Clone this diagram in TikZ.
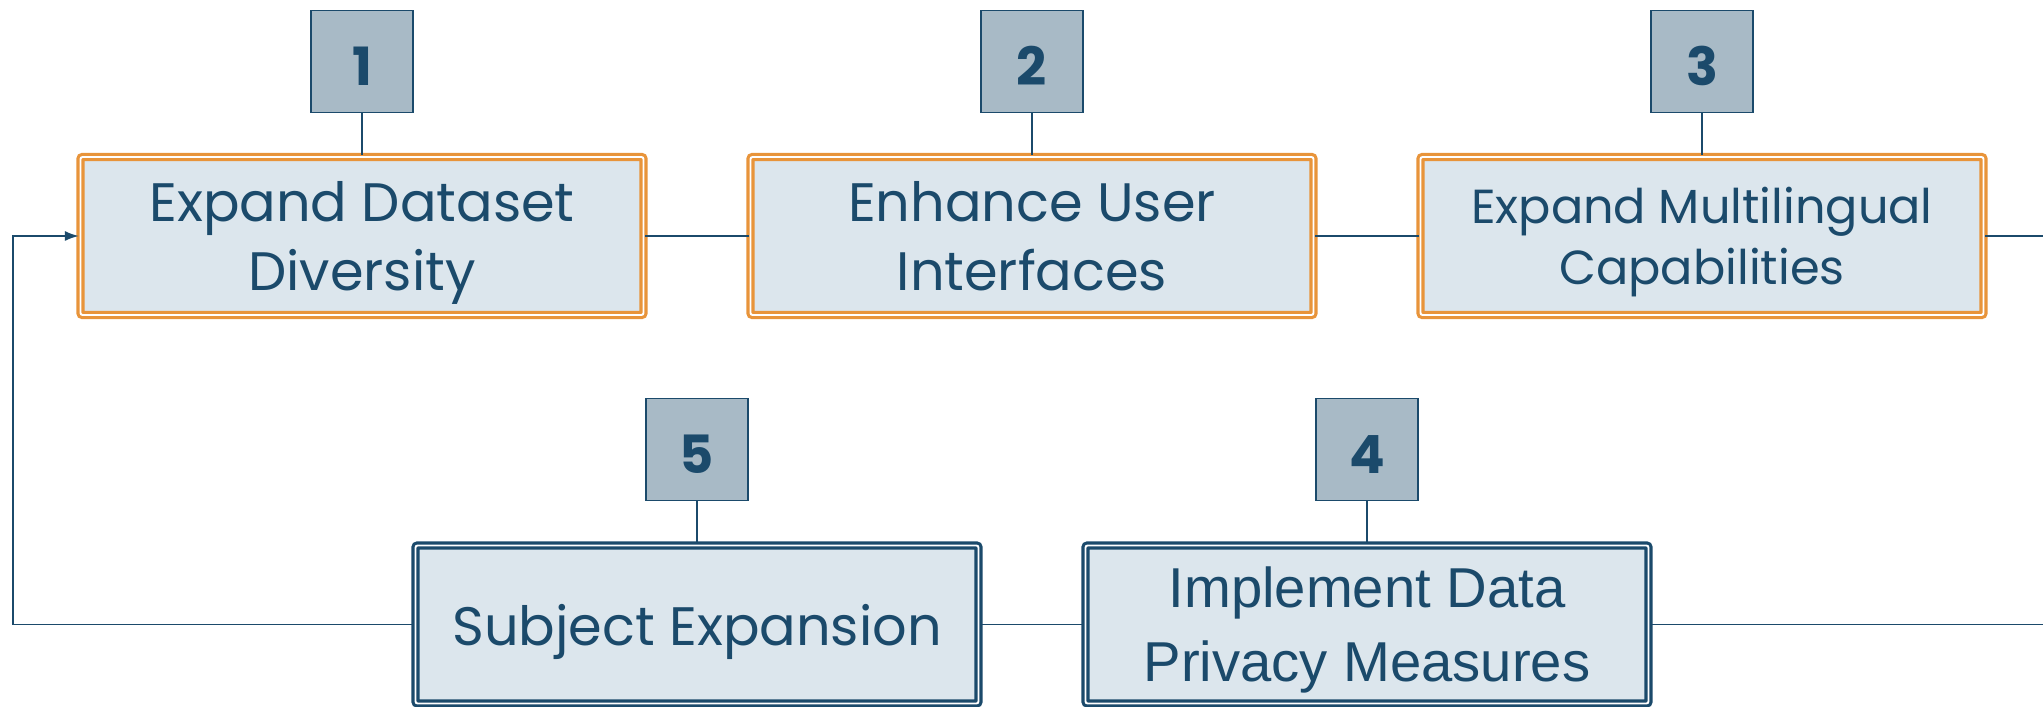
\documentclass[tikz,border=0pt]{standalone}
\usepackage{fontspec}
\setmainfont{Poppins}[Ligatures=NoCommon]
\newfontfamily\arialfont{Liberation Sans}
\usepackage{xcolor}
\usepackage{tikz}
\usetikzlibrary{arrows.meta}

\definecolor{ink}{HTML}{1B4A6B}
\definecolor{boxfill}{HTML}{DCE6ED}
\definecolor{numfill}{HTML}{A8BAC6}
\definecolor{rim}{HTML}{E8943A}

\begin{document}
\begin{tikzpicture}[
		numbox/.style={draw=ink, line width=0.5pt, fill=numfill, minimum size=1.02cm, inner sep=0pt, text=ink, text height=13.6pt, text depth=0pt, font=\fontsize{15}{18}\selectfont\bfseries},
		goal/.style={fill=boxfill, minimum width=5.63cm, minimum height=1.58cm, inner sep=0pt, align=center, text=ink, text depth=0pt, font=\fontsize{15.4}{19.4}\selectfont, line width=0.9pt, double distance=0.55pt, rounded corners=0.6pt},
		goaltop/.style={goal, draw=rim, double=white},
		goalbot/.style={goal, draw=ink, double=white},
		link/.style={ink, line width=0.5pt}
	]
		\useasboundingbox (0,0) rectangle (20.43,7.07);
		
		% top row
		\node[goaltop] (g1) at (3.62,4.71) {Expand Dataset\\Diversity};
		\node[goaltop] (g2) at (10.32,4.71) {Enhance User\\Interfaces};
		\node[goaltop, font=\fontsize{13.6}{17.2}\selectfont] (g3) at (17.02,4.71) {Expand Multilingual\\Capabilities};
		
		% bottom row
		\node[goalbot, font=\arialfont\fontsize{16}{21}\selectfont] (g4) at (13.67,0.825) {Implement Data\\Privacy Measures};
		\node[goalbot] (g5) at (6.97,0.825) {Subject Expansion};
		
		% numbers
		\node[numbox] (n1) at (3.62,6.455) {1};
		\node[numbox] (n2) at (10.32,6.455) {2};
		\node[numbox] (n3) at (17.02,6.455) {3};
		\node[numbox] (n4) at (13.67,2.575) {4};
		\node[numbox] (n5) at (6.97,2.575) {5};
		
		\coordinate (offtop) at (20.6,4.71);
		\coordinate (offbot) at (20.6,0.825);
		\coordinate (bend) at (0.127,0.825);
		
		\draw[link] (n1) -- (g1);
		\draw[link] (n2) -- (g2);
		\draw[link] (n3) -- (g3);
		\draw[link] (n4) -- (g4);
		\draw[link] (n5) -- (g5);
		
		\draw[link] (g1) -- (g2);
		\draw[link] (g2) -- (g3);
		\draw[link] (g3.east) -- (offtop);
		\draw[link] (g5) -- (g4);
		\draw[link] (g4.east) -- (offbot);
		\draw[link, -{Latex[length=1.4mm,width=1mm]}] (g5.west) -- (bend) |- (g1.west);
\end{tikzpicture}
\end{document}
